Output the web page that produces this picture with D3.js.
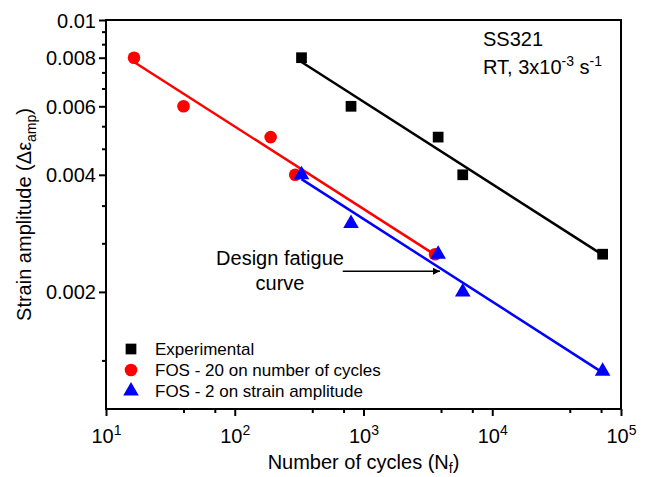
<!DOCTYPE html>
<html>
<head>
<meta charset="utf-8">
<script src="https://cdn.jsdelivr.net/npm/d3@7/dist/d3.min.js"></script>
<style>
  html, body { margin: 0; padding: 0; background: #fff; }
  svg { display: block; font-family: Arial, "Liberation Sans", sans-serif; }
</style>
</head>
<body>
<svg id="chart" width="650" height="477"></svg>
<script>
// Strain-life data for SS321 at room temperature
const expCycles   = [330, 800, 3800, 5900, 72000];
const expStrain   = [0.008, 0.006, 0.005, 0.004, 0.0025];
const fos20Cycles = [16.5, 40, 190, 295, 3600];
const fos20Strain = [0.008, 0.006, 0.005, 0.004, 0.0025];
const fos2Cycles  = [330, 800, 3800, 5900, 72000];
const fos2Strain  = [0.004, 0.003, 0.0025, 0.002, 0.00125];

// Power-law fit lines (end points)
const expFitCycles   = [330, 72000];
const expFitStrain   = [0.0078, 0.00249];
const fos20FitCycles = [16.5, 3600];
const fos20FitStrain = [0.0078, 0.00249];
const fos2FitCycles  = [330, 72000];
const fos2FitStrain  = [0.0039, 0.00124];

// Axis ticks
const xMajor = [10, 100, 1000, 10000, 100000];
const xExponents = ["1", "2", "3", "4", "5"];
const xMinor = [40, 70, 400, 700, 4000, 7000, 40000, 70000];
const yMajor = [0.002, 0.004, 0.006, 0.008, 0.01];
const yLabels = ["0.002", "0.004", "0.006", "0.008", "0.01"];
const yMinor = [0.0013333, 0.0026667, 0.0033333, 0.0046667, 0.0053333,
                0.0066667, 0.0073333, 0.0086667, 0.0093333];

const legendNames = ["Experimental", "FOS - 20 on number of cycles", "FOS - 2 on strain amplitude"];

const svg = d3.select("#chart");
const L = 106, R = 621, T = 20, B = 409;

const x = d3.scaleLog().domain([10, 100000]).range([L, R]);
const y = d3.scaleLog().domain([0.001, 0.01]).range([B, T]);

const font = 'Arial, "Liberation Sans", sans-serif';

// Minor ticks
const xMinorAxis = d3.axisBottom(x).tickValues(xMinor).tickSize(4).tickSizeOuter(0).tickFormat("");
const yMinorAxis = d3.axisLeft(y).tickValues(yMinor).tickSize(4).tickSizeOuter(0).tickFormat("");
svg.append("g").attr("transform", `translate(0,${B})`).call(xMinorAxis);
svg.append("g").attr("transform", `translate(${L},0)`).call(yMinorAxis);

// Major ticks
const xAxis = d3.axisBottom(x).tickValues(xMajor).tickSize(7).tickSizeOuter(0).tickFormat("");
const yAxis = d3.axisLeft(y).tickValues(yMajor).tickSize(7).tickSizeOuter(0)
  .tickFormat((d, i) => yLabels[i]);
const gx = svg.append("g").attr("transform", `translate(0,${B})`).call(xAxis);
const gy = svg.append("g").attr("transform", `translate(${L},0)`).call(yAxis);

svg.selectAll(".domain").remove();
svg.selectAll(".tick line").attr("stroke", "#000").attr("stroke-width", 2);

gy.selectAll(".tick text")
  .attr("font-family", font).attr("font-size", 20).attr("fill", "#000")
  .attr("x", -10).attr("dy", "0.35em");

// x tick labels as powers of ten
gx.selectAll(".tick").each(function (d, i) {
  const t = d3.select(this).append("text")
    .attr("y", 34).attr("font-family", font).attr("font-size", 20)
    .attr("fill", "#000").attr("text-anchor", "middle");
  t.append("tspan").text("10");
  t.append("tspan").attr("font-size", 14).attr("dy", -8).text(xExponents[i]);
});

// Plot frame
svg.append("rect")
  .attr("x", L).attr("y", T).attr("width", R - L).attr("height", B - T)
  .attr("fill", "none").attr("stroke", "#000").attr("stroke-width", 2);

// Fit lines
const line = d3.line().x(d => x(d[0])).y(d => y(d[1]));
const fits = [
  [expFitCycles, expFitStrain, "#000000"],
  [fos20FitCycles, fos20FitStrain, "#ff0000"],
  [fos2FitCycles, fos2FitStrain, "#0000ff"]
];
fits.forEach(([cx, cy, col]) => {
  svg.append("path")
    .datum(cx.map((c, i) => [c, cy[i]]))
    .attr("d", line).attr("fill", "none")
    .attr("stroke", col).attr("stroke-width", 2.5);
});

// Markers
const sq = d3.symbol().type(d3.symbolSquare).size(115);
const ci = d3.symbol().type(d3.symbolCircle).size(125);
const tr = d3.symbol().type(d3.symbolTriangle).size(105);

const series = [
  [expCycles, expStrain, "#000000", sq],
  [fos20Cycles, fos20Strain, "#ff0000", ci],
  [fos2Cycles, fos2Strain, "#0000ff", tr]
];
series.forEach(([cx, cy, col, sym]) => {
  svg.append("g").selectAll("path")
    .data(cx.map((c, i) => [c, cy[i]]))
    .join("path")
    .attr("d", sym)
    .attr("transform", d => `translate(${x(d[0])},${y(d[1])})`)
    .attr("fill", col);
});

// Legend
const lg = svg.append("g").attr("transform", "translate(131,349)");
series.forEach(([, , col, sym], i) => {
  const row = lg.append("g").attr("transform", `translate(0,${i * 21})`);
  row.append("path").attr("d", sym).attr("fill", col);
  row.append("text").attr("x", 24).attr("dy", "0.35em")
    .attr("font-family", font).attr("font-size", 17).attr("fill", "#000")
    .text(legendNames[i]);
});

// Material and test condition
const info = svg.append("g").attr("font-family", font).attr("font-size", 20).attr("fill", "#000");
info.append("text").attr("x", 483).attr("y", 46).text("SS321");
const rt = info.append("text").attr("x", 483).attr("y", 74);
rt.append("tspan").text("RT, 3x10");
rt.append("tspan").attr("font-size", 14).attr("dy", -8).text("-3");
rt.append("tspan").attr("dy", 8).text(" s");
rt.append("tspan").attr("font-size", 14).attr("dy", -8).text("-1");

// Design fatigue curve annotation
svg.append("defs").append("marker")
  .attr("id", "arrowhead").attr("viewBox", "0 0 10 10")
  .attr("refX", 10).attr("refY", 5)
  .attr("markerWidth", 9).attr("markerHeight", 7)
  .attr("markerUnits", "userSpaceOnUse")
  .attr("orient", "auto")
  .append("path").attr("d", "M0,0 L10,5 L0,10 Z").attr("fill", "#000");

const arrowFrom = [690, 0.00226];
const arrowTo = [3930, 0.00226];
svg.append("line")
  .attr("x1", x(arrowFrom[0])).attr("y1", y(arrowFrom[1]))
  .attr("x2", x(arrowTo[0])).attr("y2", y(arrowTo[1]))
  .attr("stroke", "#000").attr("stroke-width", 1.5)
  .attr("marker-end", "url(#arrowhead)");

const ann = svg.append("text")
  .attr("font-family", font).attr("font-size", 20).attr("fill", "#000")
  .attr("text-anchor", "middle");
ann.append("tspan").attr("x", 280).attr("y", 265).text("Design fatigue");
ann.append("tspan").attr("x", 280).attr("y", 290).text("curve");

// Axis titles
const xt = svg.append("text")
  .attr("x", (L + R) / 2).attr("y", 469)
  .attr("font-family", font).attr("font-size", 20).attr("fill", "#000")
  .attr("text-anchor", "middle");
xt.append("tspan").text("Number of cycles (N");
xt.append("tspan").attr("font-size", 14).attr("dy", 4).text("f");
xt.append("tspan").attr("dy", -4).text(")");

const yt = svg.append("text")
  .attr("transform", `translate(31,${(T + B) / 2}) rotate(-90)`)
  .attr("font-family", font).attr("font-size", 20).attr("fill", "#000")
  .attr("text-anchor", "middle");
yt.append("tspan").text("Strain amplitude (Δε");
yt.append("tspan").attr("font-size", 14).attr("dy", 5).text("amp");
yt.append("tspan").attr("dy", -5).text(")");
</script>
</body>
</html>
